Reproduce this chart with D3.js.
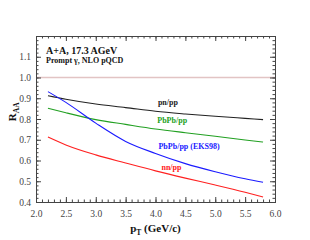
<!DOCTYPE html>
<html>
<head>
<meta charset="utf-8">
<script src="https://cdn.jsdelivr.net/npm/d3@7"></script>
<style>
  body { margin: 0; background: #fff; }
  svg { display: block; font-family: "Liberation Serif", "Times New Roman", serif; }
</style>
</head>
<body>
<div id="chart"></div>
<script>
'use strict';

// transverse momentum grid (GeV/c)
var pt = [2.2, 2.5, 3.0, 3.5, 4.0, 4.5, 5.0, 5.5, 5.8];

// R_AA per system
var pnpp = [0.912, 0.895, 0.872, 0.855, 0.837, 0.824, 0.813, 0.803, 0.797];
var pbpbpp = [0.852, 0.830, 0.797, 0.774, 0.752, 0.734, 0.717, 0.699, 0.689];
var pbpbEks = [0.932, 0.880, 0.780, 0.692, 0.634, 0.585, 0.546, 0.512, 0.495];
var nnpp = [0.713, 0.675, 0.627, 0.588, 0.550, 0.515, 0.482, 0.447, 0.424];

var seriesNames = ['pn/pp', 'PbPb/pp', 'PbPb/pp (EKS98)', 'nn/pp'];
var labelAt = [[4.04, 0.866], [4.03, 0.781], [4.05, 0.654], [4.1, 0.553]];

var xTicks = [2.0, 2.5, 3.0, 3.5, 4.0, 4.5, 5.0, 5.5, 6.0];
var yTicks = [0.4, 0.5, 0.6, 0.7, 0.8, 0.9, 1.0, 1.1];

var colors = ['#222222', '#22a022', '#1a1aff', '#ff2020'];

var margin = { top: 36, right: 35, bottom: 38, left: 36 },
  width = 310 - margin.left - margin.right,
  height = 240 - margin.top - margin.bottom;

var svg = d3.select('#chart').append('svg')
  .attr('width', 310)
  .attr('height', 240);

var g = svg.append('g')
  .attr('transform', 'translate(' + margin.left + ',' + margin.top + ')');

var x = d3.scaleLinear().domain([2.0, 6.0]).range([0, width]);
var y = d3.scaleLinear().domain([0.4, 1.2]).range([height, 0]);

// reference line at 1
g.append('line')
  .attr('x1', 0).attr('x2', width)
  .attr('y1', y(1.0)).attr('y2', y(1.0))
  .attr('stroke', '#e2c4c4')
  .attr('stroke-width', 1.4);

var line = d3.line()
  .x(function (d) { return x(d[0]); })
  .y(function (d) { return y(d[1]); })
  .curve(d3.curveMonotoneX);

[pnpp, pbpbpp, pbpbEks, nnpp].forEach(function (vals, i) {
  g.append('path')
    .datum(pt.map(function (p, j) { return [p, vals[j]]; }))
    .attr('fill', 'none')
    .attr('stroke', colors[i])
    .attr('stroke-width', 1.1)
    .attr('d', line);

  g.append('text')
    .attr('x', x(labelAt[i][0]))
    .attr('y', y(labelAt[i][1]))
    .attr('fill', colors[i])
    .style('font-size', '8px')
    .style('font-weight', 'bold')
    .text(seriesNames[i]);
});

// axes with inward ticks on all four sides
var xMinor = d3.range(20, 61).map(function (d) { return d / 10; });
var yMinor = d3.range(20, 61).map(function (d) { return d / 50; });

function styleAxis(sel) {
  sel.select('.domain').attr('stroke', '#444');
  sel.selectAll('.tick line').attr('stroke', '#444');
  sel.selectAll('text')
    .attr('fill', '#444')
    .style('font-size', '9.5px')
    .style('font-family', '"Liberation Serif", serif');
}

g.append('g')
  .attr('transform', 'translate(0,' + height + ')')
  .call(d3.axisBottom(x).tickValues(xMinor).tickSize(-2.5).tickFormat(''))
  .call(styleAxis);
g.append('g')
  .attr('transform', 'translate(0,' + height + ')')
  .call(d3.axisBottom(x).tickValues(xTicks).tickSize(-5).tickPadding(8).tickFormat(d3.format('.1f')))
  .call(styleAxis);

g.append('g')
  .call(d3.axisTop(x).tickValues(xMinor).tickSize(-2.5).tickFormat(''))
  .call(styleAxis);
g.append('g')
  .call(d3.axisTop(x).tickValues(xTicks).tickSize(-5).tickFormat(''))
  .call(styleAxis);

g.append('g')
  .call(d3.axisLeft(y).tickValues(yMinor).tickSize(-2.5).tickFormat(''))
  .call(styleAxis);
g.append('g')
  .call(d3.axisLeft(y).tickValues(yTicks).tickSize(-5).tickPadding(5).tickFormat(d3.format('.1f')))
  .call(styleAxis);

g.append('g')
  .attr('transform', 'translate(' + width + ',0)')
  .call(d3.axisRight(y).tickValues(yMinor).tickSize(-2.5).tickFormat(''))
  .call(styleAxis);
g.append('g')
  .attr('transform', 'translate(' + width + ',0)')
  .call(d3.axisRight(y).tickValues(yTicks).tickSize(-5).tickFormat(''))
  .call(styleAxis);

// header text
g.append('text')
  .attr('x', 10).attr('y', 18)
  .style('font-size', '10px').style('font-weight', 'bold')
  .attr('fill', '#111')
  .text('A+A, 17.3 AGeV');
g.append('text')
  .attr('x', 10).attr('y', 27)
  .style('font-size', '8px').style('font-weight', 'bold')
  .attr('fill', '#111')
  .text('Prompt γ, NLO pQCD');

// axis titles
var xt = g.append('text')
  .attr('x', width / 2).attr('y', height + 30)
  .attr('text-anchor', 'middle')
  .style('font-size', '11px').style('font-weight', 'bold')
  .attr('fill', '#111');
xt.append('tspan').text('p');
xt.append('tspan').attr('dy', 2.5).style('font-size', '7.5px').text('T');
xt.append('tspan').attr('dy', -2.5).text(' (GeV/c)');

var yt = g.append('text')
  .attr('transform', 'translate(-20,' + y(0.835) + ') rotate(-90)')
  .attr('text-anchor', 'middle')
  .style('font-size', '11px').style('font-weight', 'bold')
  .attr('fill', '#111');
yt.append('tspan').text('R');
yt.append('tspan').attr('dy', 2.5).style('font-size', '7.5px').text('AA');
</script>
</body>
</html>
